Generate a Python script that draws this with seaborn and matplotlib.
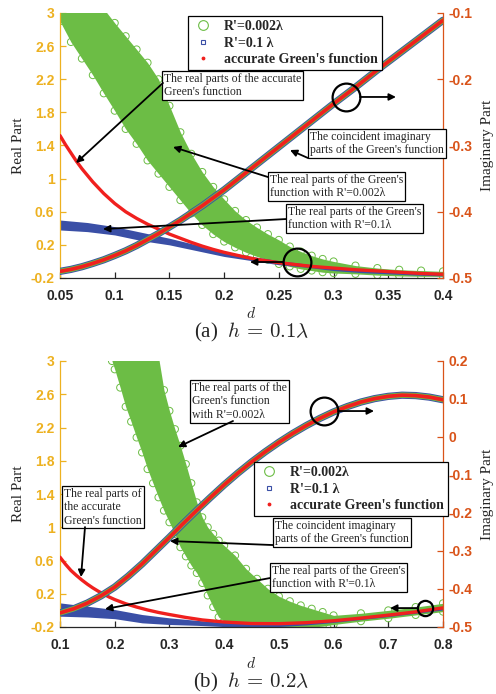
import numpy as np
import pandas as pd
import matplotlib
matplotlib.use("Agg")
import matplotlib.pyplot as plt
import seaborn as sns
from matplotlib.ticker import FuncFormatter
from matplotlib.lines import Line2D

sns.set_style("ticks")
plt.rcParams["font.family"] = ["Liberation Serif", "DejaVu Serif"]
plt.rcParams["mathtext.fontset"] = "cm"

GREEN = "#6CBD45"
BLUE = "#3A4FA6"
RED = "#F0201E"
YEL = "#EDB120"
ORA = "#D95319"

# ---------------- panel (a): h = 0.1 lambda ----------------
a_x = [0.05, 0.055, 0.06, 0.065, 0.07, 0.075, 0.08, 0.085, 0.09, 0.095, 0.10, 0.11, 0.12, 0.13,
       0.14, 0.15, 0.16, 0.17, 0.18, 0.19, 0.20, 0.21, 0.22, 0.23, 0.24, 0.25, 0.26, 0.27, 0.28,
       0.29, 0.30, 0.32, 0.34, 0.36, 0.38, 0.40]
a_red_real = [1.52, 1.41, 1.31, 1.21, 1.12, 1.04, 0.96, 0.89, 0.82, 0.76, 0.70, 0.60, 0.52, 0.45,
              0.39, 0.33, 0.28, 0.23, 0.185, 0.145, 0.11, 0.08, 0.05, 0.025, 0.005, -0.015, -0.03,
              -0.045, -0.06, -0.07, -0.08, -0.10, -0.115, -0.13, -0.145, -0.155]

a_bx = [0.05, 0.075, 0.10, 0.125, 0.15, 0.175, 0.20, 0.225, 0.25, 0.275, 0.30, 0.325, 0.35, 0.375, 0.40]
a_blue_hi = [0.50, 0.47, 0.42, 0.35, 0.28, 0.20, 0.12, 0.06, 0.01, -0.03, -0.07, -0.10, -0.12, -0.135, -0.145]
a_blue_lo = [0.38, 0.36, 0.32, 0.25, 0.20, 0.13, 0.06, 0.01, -0.04, -0.07, -0.11, -0.135, -0.15, -0.165, -0.175]

a_gx = [0.05, 0.06, 0.07, 0.08, 0.09, 0.10, 0.11, 0.12, 0.13, 0.14, 0.15, 0.16, 0.17, 0.18, 0.19,
        0.20, 0.21, 0.22, 0.23, 0.24, 0.25, 0.26, 0.27, 0.28, 0.29, 0.30, 0.32, 0.34, 0.36, 0.38, 0.40]
a_green_hi = [3.3, 3.3, 3.3, 3.3, 3.05, 2.88, 2.72, 2.56, 2.4, 2.2, 1.88, 1.56, 1.3, 1.08, 0.9,
              0.75, 0.61, 0.5, 0.41, 0.33, 0.26, 0.18, 0.12, 0.07, 0.03, 0.0, -0.05, -0.08, -0.10, -0.11, -0.12]
a_green_lo = [2.9, 2.65, 2.45, 2.25, 2.03, 1.82, 1.6, 1.42, 1.22, 1.06, 0.9, 0.74, 0.58, 0.44, 0.33,
              0.24, 0.17, 0.11, 0.06, 0.02, -0.03, -0.06, -0.09, -0.11, -0.13, -0.14, -0.15, -0.165, -0.175, -0.18, -0.18]

a_ix = [0.05, 0.06, 0.07, 0.08, 0.09, 0.10, 0.11, 0.12, 0.13, 0.14, 0.15, 0.16, 0.17, 0.18, 0.19,
        0.20, 0.22, 0.24, 0.26, 0.28, 0.30, 0.32, 0.34, 0.36, 0.38, 0.40]
a_imag = [-0.490, -0.487, -0.483, -0.478, -0.4725, -0.466, -0.459, -0.451, -0.442, -0.433, -0.423,
          -0.413, -0.402, -0.391, -0.379, -0.367, -0.341, -0.315, -0.289, -0.263, -0.237, -0.212,
          -0.186, -0.161, -0.136, -0.111]

# ---------------- panel (b): h = 0.2 lambda ----------------
b_x = [0.10, 0.11, 0.12, 0.13, 0.14, 0.15, 0.16, 0.17, 0.18, 0.19, 0.20, 0.22, 0.24, 0.26, 0.28,
       0.30, 0.33, 0.36, 0.40, 0.45, 0.50, 0.55, 0.60, 0.65, 0.70, 0.75, 0.80]
b_red_real = [0.64, 0.555, 0.48, 0.42, 0.365, 0.315, 0.27, 0.23, 0.195, 0.16, 0.13, 0.08, 0.04,
              0.005, -0.025, -0.05, -0.085, -0.115, -0.14, -0.158, -0.16, -0.148, -0.125, -0.093,
              -0.057, -0.018, 0.03]

b_bx = [0.10, 0.15, 0.20, 0.25, 0.30, 0.35, 0.40, 0.45, 0.50, 0.55, 0.60, 0.65, 0.70, 0.75, 0.80]
b_blue_hi = [0.09, 0.05, 0.01, -0.05, -0.09, -0.12, -0.145, -0.16, -0.155, -0.14, -0.115, -0.08, -0.045, -0.005, 0.035]
b_blue_lo = [-0.07, -0.08, -0.10, -0.15, -0.17, -0.18, -0.195, -0.2, -0.195, -0.175, -0.145, -0.11, -0.075, -0.035, 0.005]

b_gx = [0.195, 0.20, 0.21, 0.22, 0.23, 0.24, 0.25, 0.26, 0.27, 0.28, 0.29, 0.30, 0.31, 0.32, 0.33,
        0.34, 0.35, 0.36, 0.37, 0.38, 0.39, 0.40, 0.42, 0.44, 0.46, 0.48, 0.50, 0.52, 0.54, 0.56,
        0.58, 0.60, 0.65, 0.70, 0.75, 0.80]
b_green_hi = [3.3, 3.3, 3.3, 3.3, 3.3, 3.3, 3.3, 3.3, 3.3, 3.05, 2.65, 2.4, 2.18, 1.98, 1.76,
              1.53, 1.3, 1.12, 1.0, 0.92, 0.84, 0.78, 0.66, 0.5, 0.38, 0.26, 0.17, 0.11, 0.06, 0.02,
              -0.02, -0.06, -0.035, 0.0, 0.04, 0.085]
b_green_lo = [3.0, 2.9, 2.68, 2.45, 2.27, 2.08, 1.9, 1.7, 1.53, 1.36, 1.2, 1.06, 0.92, 0.76, 0.65,
              0.54, 0.45, 0.33, 0.18, 0.04, -0.08, -0.13, -0.19, -0.21, -0.21, -0.21, -0.21, -0.21, -0.2, -0.2,
              -0.19, -0.17, -0.13, -0.095, -0.055, -0.015]

b_ix = [0.10, 0.125, 0.15, 0.175, 0.20, 0.225, 0.25, 0.275, 0.30, 0.325, 0.35, 0.375, 0.40, 0.425,
        0.45, 0.475, 0.50, 0.525, 0.55, 0.575, 0.60, 0.625, 0.65, 0.675, 0.70, 0.725, 0.75, 0.775, 0.80]
b_imag = [-0.463, -0.452, -0.437, -0.418, -0.395, -0.366, -0.334, -0.299, -0.264, -0.228, -0.193,
          -0.159, -0.126, -0.095, -0.066, -0.039, -0.014, 0.009, 0.03, 0.049, 0.066, 0.08, 0.092,
          0.101, 0.107, 0.11, 0.109, 0.105, 0.098]

legend_labels = ["R'=0.002\u03bb", "R'=0.1 \u03bb", "accurate Green's function"]

fig = plt.figure(figsize=(4.96, 6.94), dpi=100)
W, H = 496.0, 694.0


def fmt(v, p):
    return f"{round(v, 3):g}"


def draw_panel(rect, rx, rred, bx, bhi, blo, gx, ghi, glo, ix, imag,
               xlim, xticks, yr_lim, yr_ticks, leg_anchor, notes, circles, caption, cap_y, d_y):
    l, t, r, b = rect
    ax = fig.add_axes([l / W, 1 - b / H, (r - l) / W, (b - t) / H])
    ax2 = ax.twinx()

    # green scattered band (R'=0.002 lambda)
    ax.fill_between(gx, glo, ghi, color=GREEN, lw=0, zorder=1)
    gdf = pd.DataFrame({"x": list(gx) + list(gx), "y": list(ghi) + list(glo)})
    sns.scatterplot(data=gdf, x="x", y="y", ax=ax, marker="o", s=26, fc="none",
                    ec=GREEN, linewidth=0.7, zorder=1, legend=False)
    # blue band (R'=0.1 lambda)
    ax.fill_between(bx, blo, bhi, color=BLUE, lw=0, zorder=2)
    # accurate real part
    sns.lineplot(x=rx, y=rred, ax=ax, color=RED, lw=2.4, sort=False, estimator=None, zorder=3)

    # coincident imaginary parts
    sns.lineplot(x=ix, y=imag, ax=ax2, color=BLUE, lw=5.2, sort=False, estimator=None)
    sns.lineplot(x=ix, y=imag, ax=ax2, color=GREEN, lw=3.9, sort=False, estimator=None)
    sns.lineplot(x=ix, y=imag, ax=ax2, color=RED, lw=2.7, sort=False, estimator=None)

    # annotations (positions in left-axis data coordinates)
    for (tx, ty, s, ax0, ay0, ax1, ay1) in notes:
        ax2.text(tx, ty, s, transform=ax.transData, ha="left", va="top", fontsize=8.5,
                 family="Liberation Serif", linespacing=1.15, zorder=20,
                 bbox=dict(boxstyle="square,pad=0.15", fc="white", ec="black", lw=0.9))
        ax2.annotate("", xy=(ax1, ay1), xycoords=ax.transData, xytext=(ax0, ay0),
                     textcoords=ax.transData, zorder=21,
                     arrowprops=dict(arrowstyle="-|>", color="black", lw=1.3,
                                     mutation_scale=10, shrinkA=0, shrinkB=0))
    for (cx, cy, ms, x0, x1) in circles:
        ax2.plot([cx], [cy], transform=ax.transData, marker="o", ms=ms, mfc="none",
                 mec="black", mew=1.6, ls="", zorder=22)
        ax2.annotate("", xy=(x1, cy), xycoords=ax.transData, xytext=(x0, cy),
                     textcoords=ax.transData, zorder=21,
                     arrowprops=dict(arrowstyle="-|>", color="black", lw=1.3,
                                     mutation_scale=10, shrinkA=0, shrinkB=0))

    ax.set_xlim(*xlim)
    ax.set_ylim(-0.2, 3)
    ax.set_xticks(xticks)
    ax.set_yticks([-0.2, 0.2, 0.6, 1, 1.4, 1.8, 2.2, 2.6, 3])
    ax2.set_ylim(*yr_lim)
    ax2.set_yticks(yr_ticks)
    for a in (ax, ax2):
        a.xaxis.set_major_formatter(FuncFormatter(fmt))
        a.yaxis.set_major_formatter(FuncFormatter(fmt))
        a.spines["top"].set_visible(False)
    ax.spines["right"].set_visible(False)
    ax2.spines["left"].set_visible(False)
    ax2.spines["bottom"].set_visible(False)
    ax.spines["left"].set_color(YEL)
    ax2.spines["right"].set_color(ORA)
    for sp in ("left", "bottom"):
        ax.spines[sp].set_linewidth(0.9)
    ax2.spines["right"].set_linewidth(0.9)
    ax.tick_params(axis="y", direction="in", length=4, width=0.9, labelsize=10, pad=4, colors=YEL)
    ax.tick_params(axis="x", direction="in", length=4, width=0.9, labelsize=10, pad=8)
    ax2.tick_params(axis="y", direction="in", length=4, width=0.9, labelsize=10, colors=ORA, pad=4)
    for lab in ax.get_xticklabels() + ax.get_yticklabels() + ax2.get_yticklabels():
        lab.set_fontfamily("Liberation Sans")
        lab.set_fontweight("bold")
    ax.set_xlabel("")
    ax.set_ylabel("Real Part", fontsize=11, family="Liberation Serif", labelpad=4)
    ax2.set_ylabel("Imaginary Part", fontsize=11, family="Liberation Serif", labelpad=6)

    handles = [Line2D([], [], ls="", marker="o", ms=7, mfc="none", mec=GREEN, mew=0.8),
               Line2D([], [], ls="", marker="s", ms=3.2, mfc="none", mec=BLUE, mew=0.8),
               Line2D([], [], ls="", marker=".", ms=3.5, color=RED)]
    leg = ax2.legend(handles, legend_labels, loc="upper left", bbox_to_anchor=leg_anchor,
                     prop={"family": "Liberation Serif", "weight": "bold", "size": 10},
                     frameon=True, fancybox=False, framealpha=1, edgecolor="black",
                     borderpad=0.3, labelspacing=0.25, handletextpad=0.7, handlelength=1.6,
                     borderaxespad=0)
    leg.get_frame().set_linewidth(0.9)
    leg.set_zorder(30)

    cx = (l + r) / 2 / W
    fig.text(cx, 1 - d_y / H, r"$d$", ha="center", va="center", fontsize=11)
    fig.text(cx, 1 - cap_y / H, caption, ha="center", va="center", fontsize=15,
             family="Liberation Serif")
    return ax, ax2


notes_a = [
    (0.1450, 2.275, "The real parts of the accurate\nGreen's function", 0.1441, 2.155, 0.0646, 1.188),
    (0.2785, 1.575, "The coincident imaginary\nparts of the Green's function", 0.2766, 1.249, 0.2602, 1.345),
    (0.2419, 1.056, "The real parts of the Green's\nfunction with R'=0.002\u03bb", 0.2401, 1.019, 0.1533, 1.382),
    (0.2583, 0.669, "The real parts of the Green's\nfunction with R'=0.1\u03bb", 0.2565, 0.512, 0.0893, 0.391),
]
circles_a = [(0.2666, -0.007, 20, 0.2538, 0.2236), (0.3114, 1.986, 20, 0.3241, 0.3570)]

notes_b = [
    (0.3413, 2.747, "The real parts of the\nGreen's function\nwith R'=0.002\u03bb", 0.4162, 2.278, 0.3157, 1.965),
    (0.1073, 1.472, "The real parts of\nthe accurate\nGreen's function", 0.1457, 1.002, 0.1384, 0.401),
    (0.4930, 1.087, "The coincident imaginary\nparts of the Green's function", 0.4893, 0.786, 0.301, 0.834),
    (0.4875, 0.545, "The real parts of the Green's\nfunction with R'=0.1\u03bb", 0.4838, 0.389, 0.1823, 0.016),
]
circles_b = [(0.7672, 0.0277, 11, 0.7525, 0.7032), (0.5825, 2.398, 20, 0.6081, 0.6739)]

draw_panel((60, 13, 443, 278), a_x, a_red_real, a_bx, a_blue_hi, a_blue_lo,
           a_gx, a_green_hi, a_green_lo, a_ix, a_imag,
           (0.05, 0.4), [0.05, 0.1, 0.15, 0.2, 0.25, 0.3, 0.35, 0.4],
           (-0.5, -0.1), [-0.5, -0.4, -0.3, -0.2, -0.1],
           ((188 - 60) / 383, (278 - 16) / 265), notes_a, circles_a,
           r"(a)  $h\,=\,0.1\lambda$", 332, 314)

draw_panel((60, 361, 443, 627), b_x, b_red_real, b_bx, b_blue_hi, b_blue_lo,
           b_gx, b_green_hi, b_green_lo, b_ix, b_imag,
           (0.1, 0.8), [0.1, 0.2, 0.3, 0.4, 0.5, 0.6, 0.7, 0.8],
           (-0.5, 0.2), [-0.5, -0.4, -0.3, -0.2, -0.1, 0, 0.1, 0.2],
           ((254 - 60) / 383, (627 - 462) / 266), notes_b, circles_b,
           r"(b)  $h\,=\,0.2\lambda$", 682, 663)

fig.savefig("out.png", dpi=100)
